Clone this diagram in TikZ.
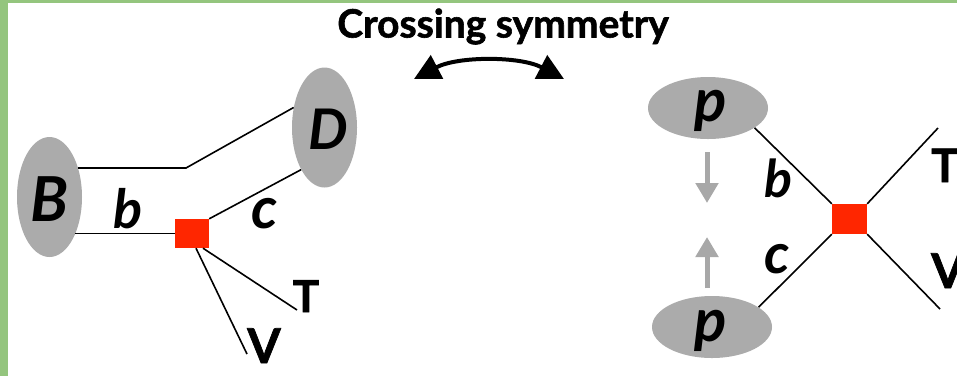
\documentclass[tikz,border=0pt]{standalone}
\usepackage{fontspec}
\setmainfont{Lato}[BoldFeatures={FakeBold=1.5}]
\usetikzlibrary{shapes.geometric,arrows.meta}
\definecolor{frame}{RGB}{148,197,126}
\definecolor{blob}{RGB}{171,171,171}
\definecolor{vert}{RGB}{255,38,0}
\definecolor{hint}{RGB}{168,168,168}
\tikzset{
  blobv/.style={ellipse, fill=blob, minimum width=65pt, minimum height=120pt, inner sep=0pt},
  blobh/.style={ellipse, fill=blob, minimum width=120pt, minimum height=62pt, inner sep=0pt},
  vertex/.style={rectangle, fill=vert, minimum width=34pt, minimum height=29pt, inner sep=0pt},
  leg/.style={line width=1.6pt, black},
  lbl/.style={inner sep=0pt, anchor=base},
  itl/.style={lbl, font=\fontsize{#1}{#1}\selectfont\bfseries\itshape},
  upl/.style={lbl, font=\fontsize{#1}{#1}\selectfont\bfseries},
  hintarrow/.style={hint, line width=5pt, -{Triangle[length=20pt,width=22pt]}},
  swaparrow/.style={line width=4pt, {Triangle[length=26pt,width=26pt]}-{Triangle[length=26pt,width=26pt]}}
}
\begin{document}
\begin{tikzpicture}[x=1pt,y=-1pt]
\useasboundingbox (0,0) rectangle (957,376);
\fill[frame] (0,0) rectangle (957,376);
\fill[white] (8,3) rectangle (957,376);

% title and crossing arrow
\node[upl=39] (title) at (503,37.5) {Crossing symmetry};
\coordinate (swl) at (414,79);
\coordinate (swr) at (564,79);
\draw[swaparrow] (swl) .. controls (458,56) and (520,56) .. (swr);

% left diagram
\node[blobv] (B) at (49.5,197) {};
\node[blobv] (D) at (324.5,127.5) {};
\node[vertex] (sq1) at (192,233.5) {};
\coordinate (k1) at (186,168);
\coordinate (Tend) at (297,310);
\coordinate (Vend) at (247,354);
\draw[leg] (B.46 |- k1) -- (k1) -- (D.147);
\draw[leg] (sq1.west -| B.-56) -- (sq1.west);
\draw[leg] (sq1.north east) -- (D.241);
\draw[leg] ([xshift=11pt]sq1.south) -- (Tend);
\draw[leg] ([xshift=4pt]sq1.south) -- (Vend);
\node[itl=62] (Blbl) at (49.5,221) {B};
\node[itl=56] (Dlbl) at (328,149) {D};
\node[itl=54] (blbl) at (128,228) {b};
\node[itl=58] (clbl) at (265,228) {c};
\node[upl=44] (Tlbl) at (306,312) {T};
\node[upl=48] (Vlbl) at (264,363) {V};

% right diagram
\node[blobh] (P1) at (708,108) {};
\node[blobh] (P2) at (712,327) {};
\node[vertex, minimum width=35pt, minimum height=30pt] (sq2) at (849.5,219) {};
\coordinate (T2end) at (938,128);
\coordinate (V2end) at (940,309);
\draw[leg] (P1.-23) -- (sq2.north west);
\draw[leg] (P2.23) -- (sq2.south west);
\draw[leg] (sq2.north east) -- (T2end);
\draw[leg] (sq2.south east) -- (V2end);
\node[itl=60] (p1lbl) at (711,121) {p};
\node[itl=60] (p2lbl) at (711,341) {p};
\node[itl=52] (b2lbl) at (778,197) {b};
\node[itl=56] (c2lbl) at (777,273) {c};
\node[upl=46, anchor=base west] (T2lbl) at (931,182) {T};
\node[upl=48, anchor=base west] (V2lbl) at (931,288) {V};
\coordinate (a1s) at (707,152);
\coordinate (a1e) at (707,203);
\coordinate (a2s) at (707,288);
\coordinate (a2e) at (707,237);
\draw[hintarrow] (a1s) -- (a1e);
\draw[hintarrow] (a2s) -- (a2e);
\end{tikzpicture}
\end{document}
